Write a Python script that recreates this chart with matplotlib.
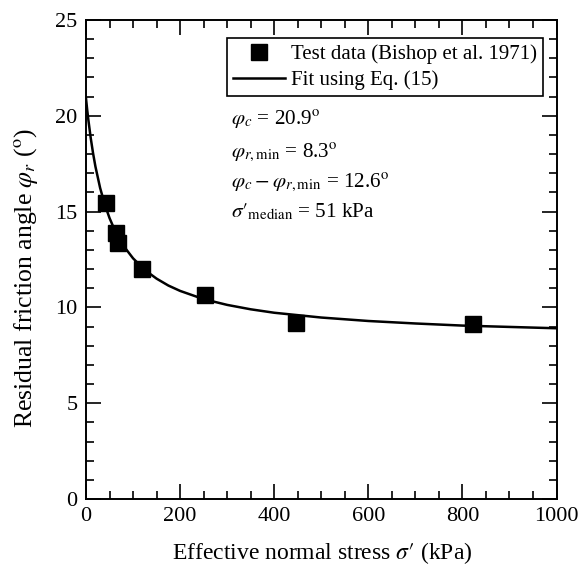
import numpy as np
import matplotlib
matplotlib.use("Agg")
import matplotlib.pyplot as plt
from matplotlib.ticker import MultipleLocator

plt.rcParams['font.family'] = ['Liberation Serif', 'DejaVu Serif']
plt.rcParams['mathtext.fontset'] = 'stix'

# Test data (Bishop et al. 1971)
stress = [42, 63, 67, 119, 253, 446, 823]
phi_r = [15.45, 13.9, 13.35, 12.0, 10.65, 9.17, 9.12]

# Fitted curve
fit_stress = [0, 2.5, 5, 10, 15, 20, 30, 40, 50, 60, 70, 80, 100, 125, 150, 175,
              200, 250, 300, 350, 400, 500, 600, 700, 800, 900, 1000]
fit_phi = [20.9, 20.31, 19.78, 18.84, 18.04, 17.35, 16.23, 15.36, 14.66, 14.09, 13.61,
           13.2, 12.56, 11.95, 11.5, 11.14, 10.86, 10.43, 10.13, 9.9, 9.72, 9.47,
           9.29, 9.16, 9.05, 8.98, 8.91]

notes = [r'$\varphi_c$ = 20.9$^{\rm o}$',
         r'$\varphi_{r,\rm min}$ = 8.3$^{\rm o}$',
         r'$\varphi_c-\varphi_{r,\rm min}$ = 12.6$^{\rm o}$',
         r"$\sigma\prime_{\rm median}$ = 51 kPa"]

fig = plt.figure(figsize=(5.82, 5.66), dpi=100)
ax = fig.add_axes([0.1478, 0.1184, 0.8084, 0.8463])

ax.plot(stress, phi_r, 's', color='black', markersize=11.5, label='Test data (Bishop et al. 1971)')
ax.plot(fit_stress, fit_phi, '-', color='black', linewidth=1.8, label='Fit using Eq. (15)')

ax.set_xlim(0, 1000)
ax.set_ylim(0, 25)
ax.xaxis.set_major_locator(MultipleLocator(200))
ax.xaxis.set_minor_locator(MultipleLocator(50))
ax.yaxis.set_major_locator(MultipleLocator(5))
ax.yaxis.set_minor_locator(MultipleLocator(1))
ax.tick_params(which='both', direction='in', top=True, right=True, labelsize=16, width=1.2)
ax.tick_params(which='major', length=11, pad=6)
ax.tick_params(which='minor', length=6)
for s in ax.spines.values():
    s.set_linewidth(1.4)

ax.set_xlabel(r"Effective normal stress $\sigma\prime$ (kPa)", fontsize=17)
ax.set_ylabel(r'Residual friction angle $\varphi_r$ ($^{\rm o}$)', fontsize=18.5)
ax.xaxis.set_label_coords(0.502, -0.086)
ax.yaxis.set_label_coords(-0.098, 0.462)

leg = ax.legend(loc='upper right', bbox_to_anchor=(0.971, 0.962), borderaxespad=0,
                fontsize=15, fancybox=False, framealpha=1, edgecolor='black',
                handlelength=2.5, handletextpad=0.25, borderpad=0.3, labelspacing=0.3)
leg.get_frame().set_linewidth(1.2)

ys = [0.781, 0.714, 0.651, 0.589]
for t, y in zip(notes, ys):
    ax.text(0.308, y, t, transform=ax.transAxes, fontsize=15.2, va='baseline')

fig.savefig('out.png', dpi=100)
